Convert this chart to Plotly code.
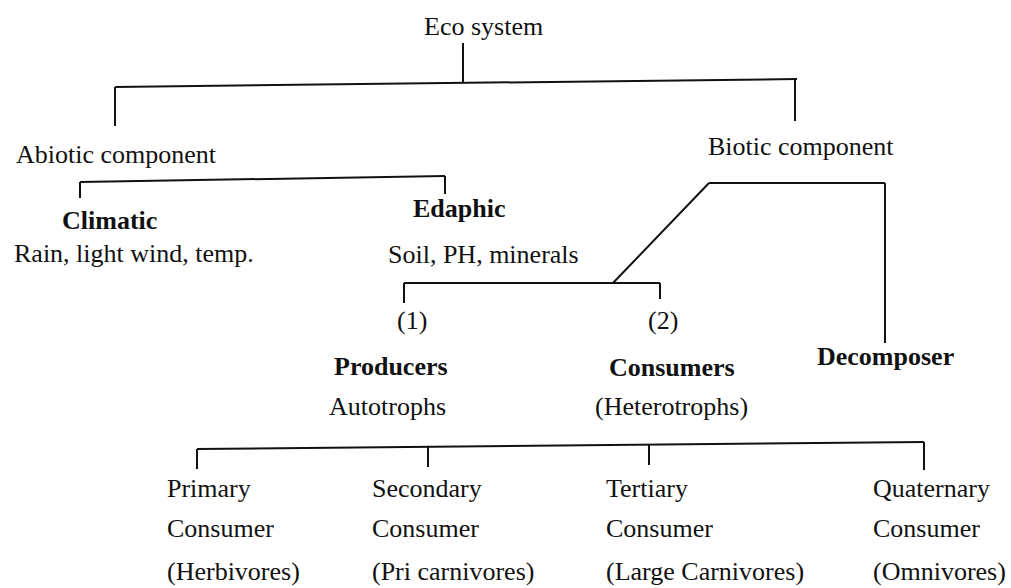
import plotly.graph_objects as go

# ---------------- content of the tree ----------------
root_label = "Eco system"
component_labels = ["Abiotic component", "Biotic component"]
abiotic_labels = ["Climatic", "Edaphic"]
abiotic_details = ["Rain, light wind, temp.", "Soil, PH, minerals"]
biotic_numbers = ["(1)", "(2)"]
biotic_labels = ["Producers", "Consumers", "Decomposer"]
biotic_details = ["Autotrophs", "(Heterotrophs)"]
consumer_orders = ["Primary", "Secondary", "Tertiary", "Quaternary"]
consumer_words = ["Consumer", "Consumer", "Consumer", "Consumer"]
consumer_types = ["(Herbivores)", "(Pri carnivores)", "(Large Carnivores)", "(Omnivores)"]

# ---------------- layout (page pixel space) ----------------
W, H = 1011, 588
FONT = "Liberation Serif, Times New Roman, serif"
FS = 26

# text placement: (x, y, xanchor)
root_pos = (483, 26, "center")
component_pos = [(14, 154, "left"), (706, 146, "left")]
abiotic_pos = [(109, 220, "center"), (459, 208, "center")]
abiotic_detail_pos = [(12, 253, "left"), (386, 254, "left")]
number_pos = [(412, 320, "center"), (663, 320, "center")]
biotic_pos = [(391, 366, "center"), (672, 367, "center"), (885, 356, "center")]
biotic_detail_pos = [(387, 406, "center"), (671, 406, "center")]
consumer_x = [165, 370, 604, 871]
consumer_rows_y = [488, 528, 571]

# connector geometry
stem_root = (463, 43, 83)
top_bar = ((115, 87), (797, 79))
top_drops = [(115, 126), (795, 121)]
abiotic_bar = ((80, 182), (445, 176))
abiotic_drops = [(80, 198), (445, 194)]
biotic_bar = ((709, 183), (885, 183))
biotic_diag_end = (613, 283)
decomposer_drop_end = 343
pc_bar = ((404, 283), (660, 283))
pc_drops = [(404, 303), (660, 299)]
bottom_bar = ((197, 449), (924, 442))
bottom_drop_x = [197, 428, 649, 924]
bottom_drop_end = [469, 467, 465, 470]


def bar_y(bar, x):
    (x0, y0), (x1, y1) = bar
    return y0 + (y1 - y0) * (x - x0) / (x1 - x0)


xs, ys = [], []


def seg(p, q):
    xs.extend([p[0], q[0], None])
    ys.extend([p[1], q[1], None])


seg((stem_root[0], stem_root[1]), (stem_root[0], stem_root[2]))
seg(*top_bar)
for x, y_end in top_drops:
    seg((x, bar_y(top_bar, x)), (x, y_end))
seg(*abiotic_bar)
for x, y_end in abiotic_drops:
    seg((x, bar_y(abiotic_bar, x)), (x, y_end))
seg(*biotic_bar)
seg(biotic_bar[0], biotic_diag_end)
seg(biotic_bar[1], (biotic_bar[1][0], decomposer_drop_end))
seg(*pc_bar)
for x, y_end in pc_drops:
    seg((x, bar_y(pc_bar, x)), (x, y_end))
seg(*bottom_bar)
for x, y_end in zip(bottom_drop_x, bottom_drop_end):
    seg((x, bar_y(bottom_bar, x)), (x, y_end))

fig = go.Figure()
fig.add_trace(go.Scatter(x=xs, y=ys, mode="lines",
                         line=dict(color="#111111", width=2),
                         hoverinfo="skip", showlegend=False))

annotations = []


def add_text(text, pos, bold=False):
    x, y, anchor = pos
    t = f"<b>{text}</b>" if bold else text
    annotations.append(dict(x=x, y=y, xref="x", yref="y", text=t,
                            showarrow=False, xanchor=anchor, yanchor="middle",
                            font=dict(family=FONT, size=FS, color="#111111")))


add_text(root_label, root_pos)
for lab, p in zip(component_labels, component_pos):
    add_text(lab, p)
for lab, p in zip(abiotic_labels, abiotic_pos):
    add_text(lab, p, bold=True)
for lab, p in zip(abiotic_details, abiotic_detail_pos):
    add_text(lab, p)
for lab, p in zip(biotic_numbers, number_pos):
    add_text(lab, p)
for lab, p in zip(biotic_labels, biotic_pos):
    add_text(lab, p, bold=True)
for lab, p in zip(biotic_details, biotic_detail_pos):
    add_text(lab, p)
for i, x in enumerate(consumer_x):
    for lab, y in zip([consumer_orders[i], consumer_words[i], consumer_types[i]], consumer_rows_y):
        add_text(lab, (x, y, "left"))

fig.update_layout(
    width=W, height=H,
    margin=dict(l=0, r=0, t=0, b=0),
    paper_bgcolor="white", plot_bgcolor="white",
    xaxis=dict(range=[0, W], visible=False, fixedrange=True),
    yaxis=dict(range=[H, 0], visible=False, fixedrange=True),
    annotations=annotations,
)

fig.write_html(
    "out.html",
    config={"displayModeBar": False},
    post_script="document.body.style.margin='0';document.body.style.overflow='hidden';"
                "document.documentElement.style.overflow='hidden';",
)
